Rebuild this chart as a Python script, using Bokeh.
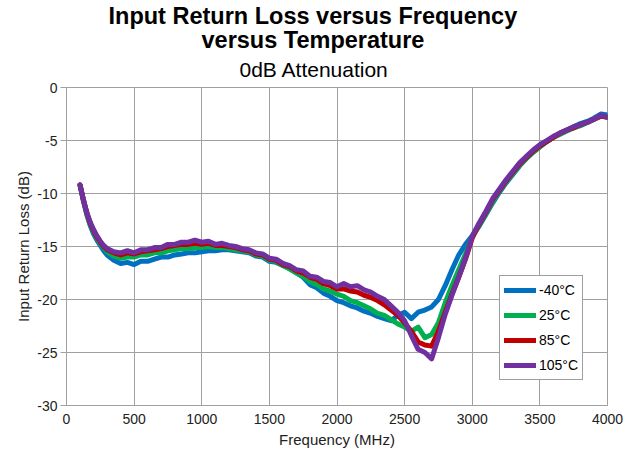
from bokeh.plotting import figure
from bokeh.models import Title, Legend, LegendItem, FixedTicker, ColumnDataSource, PrintfTickFormatter
from bokeh.embed import file_html
from bokeh.resources import INLINE

# ---- data ----
freq_mhz = [100, 125, 150, 175, 200, 225, 250, 275, 300,
            350, 400, 450, 500, 550, 600, 650, 700, 750, 800, 850, 900, 950, 1000,
            1050, 1100, 1150, 1200, 1250, 1300, 1350, 1400, 1450, 1500,
            1550, 1600, 1650, 1700, 1750, 1800, 1850, 1900, 1950, 2000,
            2050, 2100, 2150, 2200, 2250, 2300, 2350, 2400, 2450, 2500,
            2550, 2600, 2650, 2700, 2750, 2800, 2850, 2900, 2950, 3000,
            3050, 3100, 3150, 3200, 3250, 3300, 3350, 3400, 3450, 3500,
            3550, 3600, 3650, 3700, 3750, 3800, 3850, 3900, 3950, 4000]

rl_m40 = [-9.2, -10.7, -12.0, -13.0, -13.8, -14.4, -14.9, -15.4, -15.8,
          -16.3, -16.6, -16.5, -16.7, -16.4, -16.4, -16.2, -16.0, -16.0, -15.8, -15.7, -15.6, -15.6, -15.5,
          -15.4, -15.4, -15.3, -15.3, -15.4, -15.5, -15.6, -15.9, -16.0, -16.4,
          -16.5, -16.8, -17.1, -17.5, -17.9, -18.6, -18.9, -19.4, -19.7, -20.1,
          -20.3, -20.6, -20.8, -21.1, -21.3, -21.6, -21.8, -22.0, -21.5, -21.2,
          -21.8, -21.2, -21.0, -20.7, -20.0, -18.7, -17.2, -15.8, -14.8, -14.0,
          -13.1, -12.0, -10.9, -9.9, -9.0, -8.2, -7.4, -6.7, -6.1, -5.6,
          -5.1, -4.7, -4.3, -4.0, -3.7, -3.4, -3.2, -2.9, -2.5, -2.6]

rl_25 = [-9.2, -10.6, -11.9, -12.9, -13.6, -14.2, -14.7, -15.1, -15.5,
         -15.9, -16.1, -16.0, -16.0, -15.8, -15.8, -15.6, -15.6, -15.4, -15.3, -15.2, -15.2, -15.1, -15.1,
         -15.0, -15.1, -15.1, -15.2, -15.3, -15.4, -15.5, -15.8, -15.9, -16.3,
         -16.4, -16.8, -17.1, -17.5, -17.8, -18.3, -18.6, -19.0, -19.2, -19.5,
         -19.7, -20.1, -20.3, -20.6, -20.9, -21.3, -21.5, -21.9, -22.3, -22.6,
         -23.0, -22.6, -23.6, -23.3, -22.2, -20.3, -18.7, -17.2, -15.7, -14.1,
         -13.0, -11.9, -10.8, -9.8, -8.9, -8.1, -7.3, -6.7, -6.1, -5.6,
         -5.1, -4.7, -4.4, -4.1, -3.8, -3.6, -3.3, -3.0, -2.7, -2.8]

rl_85 = [-9.2, -10.6, -11.8, -12.8, -13.5, -14.1, -14.6, -15.0, -15.3,
         -15.6, -15.8, -15.6, -15.7, -15.5, -15.4, -15.3, -15.2, -15.0, -14.9, -14.8, -14.8, -14.7, -14.8,
         -14.7, -14.9, -14.9, -15.0, -15.1, -15.3, -15.4, -15.7, -15.8, -16.2,
         -16.3, -16.7, -16.9, -17.3, -17.5, -17.9, -18.1, -18.5, -18.7, -19.0,
         -19.0, -19.2, -19.3, -19.6, -19.8, -20.1, -20.5, -21.0, -21.5, -22.2,
         -23.0, -24.0, -24.3, -24.4, -23.0, -21.2, -19.5, -17.9, -16.2, -14.2,
         -12.9, -11.8, -10.6, -9.7, -8.8, -8.0, -7.2, -6.6, -6.0, -5.5,
         -5.1, -4.7, -4.3, -4.0, -3.8, -3.5, -3.3, -3.0, -2.7, -2.8]

rl_105 = [-9.2, -10.6, -11.8, -12.7, -13.4, -14.0, -14.5, -14.9, -15.2,
          -15.5, -15.6, -15.4, -15.6, -15.3, -15.3, -15.1, -15.1, -14.8, -14.8, -14.6, -14.6, -14.4, -14.6,
          -14.5, -14.8, -14.7, -14.9, -15.0, -15.2, -15.3, -15.6, -15.7, -16.1,
          -16.2, -16.6, -16.8, -17.2, -17.3, -17.8, -17.9, -18.3, -18.4, -18.8,
          -18.5, -18.8, -18.7, -19.1, -19.3, -19.7, -20.0, -20.6, -21.2, -22.0,
          -23.4, -24.7, -25.0, -25.6, -23.6, -21.4, -19.6, -17.9, -16.1, -14.0,
          -12.8, -11.7, -10.5, -9.6, -8.7, -7.9, -7.1, -6.5, -5.9, -5.4,
          -5.0, -4.6, -4.3, -4.0, -3.7, -3.5, -3.3, -3.0, -2.6, -2.8]

series_labels = ["-40°C", "25°C", "85°C", "105°C"]
series_colors = ["#0070C0", "#00B050", "#C00000", "#7030A0"]
x_ticks = [0, 500, 1000, 1500, 2000, 2500, 3000, 3500, 4000]
y_ticks = [0, -5, -10, -15, -20, -25, -30]
title_lines = ["Input Return Loss versus Frequency", "versus Temperature"]
subtitle = "0dB Attenuation"

FONT = "Liberation Sans"
GRID = "#a0a0a0"

p = figure(width=638, height=453, x_range=(0, 4000), y_range=(-30, 0),
           output_backend="svg", toolbar_location=None, title=None,
           min_border_left=66, min_border_right=31, min_border_top=87, min_border_bottom=48,
           background_fill_color="white", border_fill_color="white")

# stacked titles (first added sits closest to the plot); left-aligned with offsets so
# that each line is centred at x ~ 312 px like the reference
p.add_layout(Title(text=subtitle, align="left", offset=173, text_font=FONT,
                   text_font_size="21px", text_font_style="normal", text_color="black",
                   standoff=14), "above")
p.add_layout(Title(text=title_lines[1], align="left", offset=135, text_font=FONT,
                   text_font_size="23.5px", text_font_style="bold", text_color="black",
                   standoff=-8), "above")
p.add_layout(Title(text=title_lines[0], align="left", offset=42, text_font=FONT,
                   text_font_size="23.5px", text_font_style="bold", text_color="black",
                   standoff=0), "above")

p.outline_line_color = GRID
p.xgrid.grid_line_color = GRID
p.ygrid.grid_line_color = GRID
p.xgrid.ticker = FixedTicker(ticks=x_ticks)
p.ygrid.ticker = FixedTicker(ticks=y_ticks)

p.xaxis.ticker = FixedTicker(ticks=x_ticks)
p.yaxis.ticker = FixedTicker(ticks=y_ticks)
p.yaxis.formatter = PrintfTickFormatter(format="%d")
for ax in (p.xaxis[0], p.yaxis[0]):
    ax.axis_line_color = GRID
    ax.major_tick_line_color = GRID
    ax.minor_tick_line_color = None
    ax.major_tick_in = 0
    ax.major_label_text_font = FONT
    ax.major_label_text_font_size = "14px"
    ax.major_label_text_color = "#222222"
    ax.axis_label_text_font = FONT
    ax.axis_label_text_font_size = "15px"
    ax.axis_label_text_font_style = "normal"
    ax.axis_label_text_color = "#222222"
p.xaxis.major_tick_out = 0
p.xaxis.major_label_standoff = 8
p.xaxis.axis_label_standoff = 4
p.yaxis.major_tick_out = 6
p.yaxis.major_label_standoff = 3
p.yaxis.axis_label_standoff = 2
p.xaxis.axis_label = "Frequency (MHz)"
p.yaxis.axis_label = "Input Return Loss (dB)"

src = ColumnDataSource(dict(f=freq_mhz, a=rl_m40, b=rl_25, c=rl_85, d=rl_105))
items = []
for col, lab, colr in zip(["a", "b", "c", "d"], series_labels, series_colors):
    r = p.line("f", col, source=src, line_color=colr, line_width=5, line_join="round", line_cap="round")
    items.append(LegendItem(label=lab, renderers=[r]))

legend = Legend(items=items, location=(433, 25), orientation="vertical",
                label_text_font=FONT, label_text_font_size="14px", label_text_color="black",
                glyph_width=32, glyph_height=20, label_height=20, label_standoff=3,
                spacing=5, padding=4, margin=0,
                border_line_color="#404040", border_line_width=1,
                background_fill_color="white", background_fill_alpha=1.0)
p.add_layout(legend)

open("out.html", "w").write(file_html(p, INLINE))
